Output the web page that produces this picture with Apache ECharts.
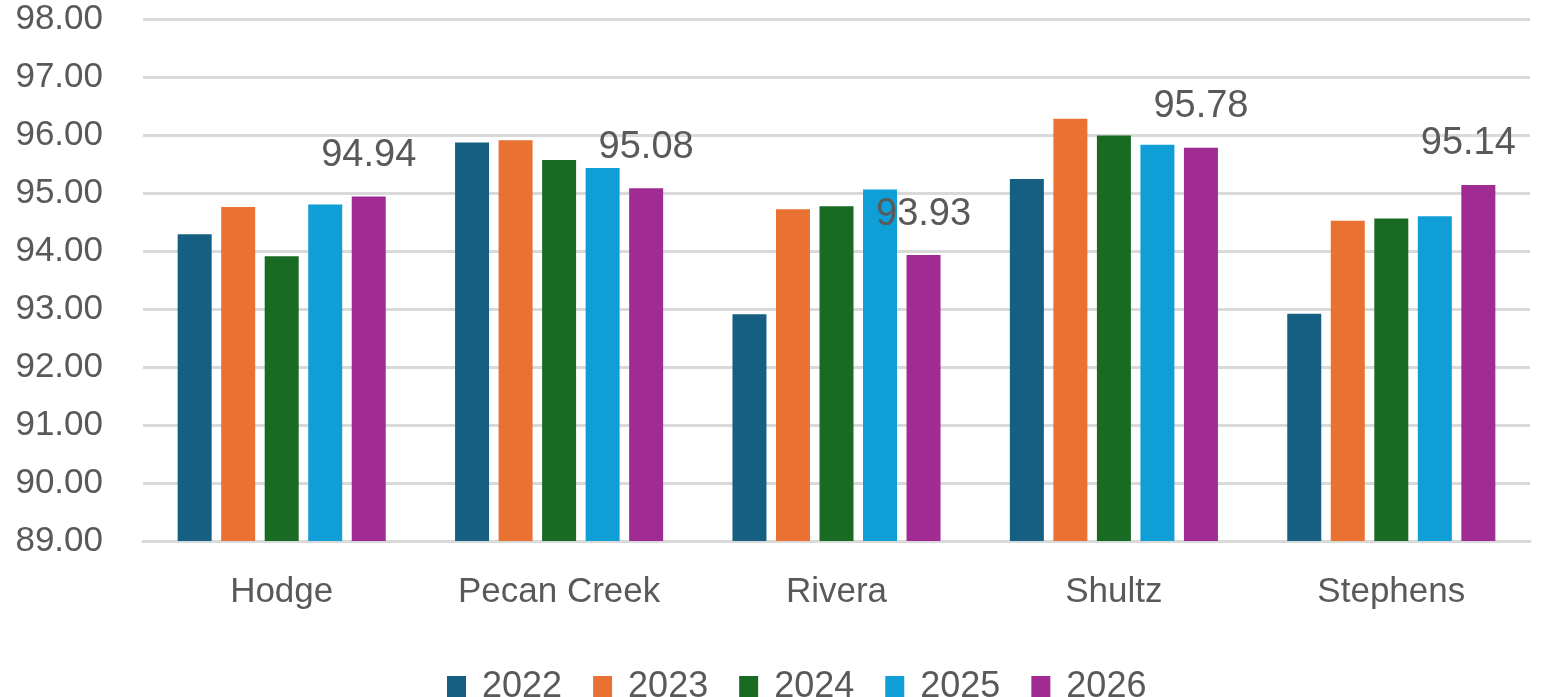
<!DOCTYPE html>
<html>
<head>
<meta charset="utf-8">
<script src="https://cdn.jsdelivr.net/npm/echarts@6/dist/echarts.min.js"></script>
<style>
html,body{margin:0;padding:0;background:#fff;}
#chart{width:1551px;height:697px;}
</style>
</head>
<body>
<div id="chart"></div>
<script>
const categories = ['Hodge', 'Pecan Creek', 'Rivera', 'Shultz', 'Stephens'];
const years = ['2022', '2023', '2024', '2025', '2026'];
const s2022 = [94.29, 95.87, 92.91, 95.24, 92.92];
const s2023 = [94.76, 95.91, 94.72, 96.28, 94.52];
const s2024 = [93.91, 95.57, 94.77, 95.99, 94.56];
const s2025 = [94.80, 95.43, 95.06, 95.83, 94.60];
const s2026 = [94.94, 95.08, 93.93, 95.78, 95.14];
const yTicks = [89, 90, 91, 92, 93, 94, 95, 96, 97, 98];

const seriesValues = [s2022, s2023, s2024, s2025, s2026];
const colors = ['#156082', '#E97132', '#196B24', '#0F9ED5', '#A02B93'];
const textColor = '#595959';
const font = 'Liberation Sans';

const chart = echarts.init(document.getElementById('chart'));

const series = seriesValues.map((vals, si) => {
  const isLabeled = si === seriesValues.length - 1;
  return {
    name: years[si],
    type: 'bar',
    barWidth: 34,
    barGap: '28%',
    itemStyle: { color: colors[si] },
    data: vals.map((v, ci) => {
      if (!isLabeled) return v;
      return {
        value: v,
        label: {
          show: true,
          position: 'top',
          distance: 22,
          offset: ci === vals.length - 1 ? [-10, 0] : [0, 0],
          formatter: (p) => p.value.toFixed(2),
          color: textColor,
          fontSize: 38,
          fontFamily: font
        }
      };
    })
  };
});

chart.setOption({
  animation: false,
  backgroundColor: '#ffffff',
  grid: { left: 143, right: 21, top: 19, bottom: 156, containLabel: false },
  legend: {
    data: years,
    left: 447,
    top: 669,
    padding: 0,
    icon: 'rect',
    itemWidth: 19,
    itemHeight: 22,
    itemGap: 31,
    textStyle: { color: textColor, fontSize: 36, fontFamily: font, padding: [0, 0, 0, 11] }
  },
  xAxis: {
    type: 'category',
    data: categories,
    axisLine: { show: true, lineStyle: { color: '#d9d9d9', width: 3 } },
    axisTick: { show: false },
    axisLabel: { color: textColor, fontSize: 35, fontFamily: font, margin: 34 }
  },
  yAxis: {
    type: 'value',
    min: yTicks[0],
    max: yTicks[yTicks.length - 1],
    interval: 1,
    axisLine: { show: false },
    axisTick: { show: false },
    splitLine: { lineStyle: { color: '#d9d9d9', width: 3 } },
    axisLabel: {
      color: textColor, fontSize: 35, fontFamily: font, margin: 40,
      formatter: (v) => v.toFixed(2)
    }
  },
  series: series
});
</script>
</body>
</html>
